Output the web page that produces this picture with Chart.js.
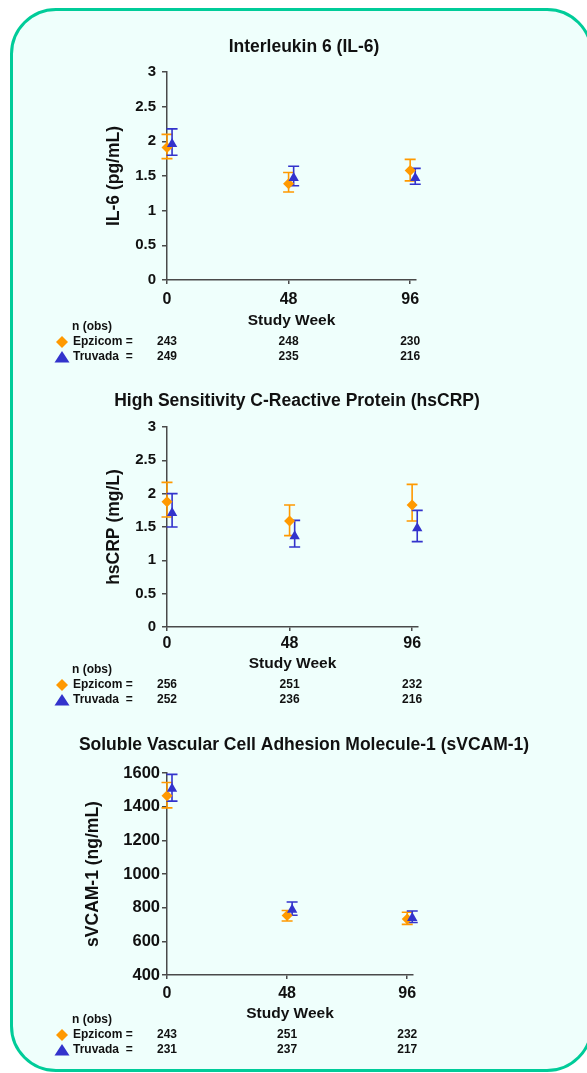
<!DOCTYPE html>
<html>
<head>
<meta charset="utf-8">
<title>Inflammatory markers by study week</title>
<script src="https://cdn.jsdelivr.net/npm/chart.js@4.4.1/dist/chart.umd.min.js"></script>
<style>
  html, body { margin: 0; padding: 0; background: #ffffff; }
  body { width: 587px; height: 1073px; position: relative; overflow: hidden; }
  #panel {
    position: absolute; left: 10px; top: 8px;
    width: 577px; height: 1058px;
    border: 3px solid #00CC99; border-radius: 46px;
    background: #EFFFFC;
  }
  canvas { position: absolute; left: 0; }
</style>
</head>
<body>
<div id="panel"></div>
<canvas id="il6Chart" width="587" height="375" style="top:0px"></canvas>
<canvas id="crpChart" width="587" height="345" style="top:375px"></canvas>
<canvas id="vcamChart" width="587" height="353" style="top:720px"></canvas>

<script>
// --- data ---
const weeks = [0, 48, 96];

// IL-6 (pg/mL)
const il6Epzicom     = [1.91, 1.39, 1.58];
const il6EpzicomLow  = [1.75, 1.27, 1.43];
const il6EpzicomHigh = [2.10, 1.55, 1.74];
const il6Truvada     = [1.96, 1.47, 1.47];
const il6TruvadaLow  = [1.80, 1.36, 1.38];
const il6TruvadaHigh = [2.18, 1.64, 1.61];
const il6NEpzicom = [243, 248, 230];
const il6NTruvada = [249, 235, 216];

// hsCRP (mg/L)
const crpEpzicom     = [1.88, 1.59, 1.83];
const crpEpzicomLow  = [1.65, 1.37, 1.59];
const crpEpzicomHigh = [2.17, 1.83, 2.14];
const crpTruvada     = [1.71, 1.36, 1.48];
const crpTruvadaLow  = [1.50, 1.20, 1.28];
const crpTruvadaHigh = [2.00, 1.60, 1.75];
const crpNEpzicom = [256, 251, 232];
const crpNTruvada = [252, 236, 216];

// sVCAM-1 (ng/mL)
const vcamEpzicom     = [1465, 753, 733];
const vcamEpzicomLow  = [1393, 721, 701];
const vcamEpzicomHigh = [1544, 783, 773];
const vcamTruvada     = [1507, 787, 739];
const vcamTruvadaLow  = [1433, 755, 712];
const vcamTruvadaHigh = [1592, 834, 780];
const vcamNEpzicom = [243, 251, 232];
const vcamNTruvada = [231, 237, 217];

const FONT = 'Arial, "Liberation Sans", Helvetica, sans-serif';
const INK = '#111111';
const AXIS = '#4a4a4a';
const ORANGE = '#FF9900';
const BLUE = '#3333CC';
const truvadaShift = 2; // Truvada points sit slightly right of the week

// error bars drawn under the markers
const errorBars = {
  id: 'errorBars',
  beforeDatasetsDraw(chart) {
    const ctx = chart.ctx;
    const y = chart.scales.y;
    chart.data.datasets.forEach((ds, i) => {
      const meta = chart.getDatasetMeta(i);
      ctx.save();
      ctx.strokeStyle = ds.borderColor;
      ctx.lineWidth = 1.6;
      meta.data.forEach((pt, j) => {
        const top = y.getPixelForValue(ds.high[j]);
        const bot = y.getPixelForValue(ds.low[j]);
        ctx.beginPath();
        ctx.moveTo(pt.x, top); ctx.lineTo(pt.x, bot);
        ctx.moveTo(pt.x - 5.5, top); ctx.lineTo(pt.x + 5.5, top);
        ctx.moveTo(pt.x - 5.5, bot); ctx.lineTo(pt.x + 5.5, bot);
        ctx.stroke();
      });
      ctx.restore();
    });
  }
};

// chart title + n (obs) table under the x axis
const panelText = {
  id: 'panelText',
  afterDraw(chart, args, opts) {
    const { ctx, chartArea } = chart;
    const x = chart.scales.x;
    ctx.save();
    ctx.fillStyle = INK;
    ctx.textBaseline = 'middle';

    ctx.font = 'bold 17.5px ' + FONT;
    ctx.textAlign = 'center';
    ctx.fillText(opts.title, opts.titleX, chartArea.top - opts.titleGap);

    const rowY = chartArea.bottom + opts.tableGap;
    ctx.font = 'bold 12px ' + FONT;
    ctx.textAlign = 'left';
    ctx.fillText('n (obs)', 72, rowY);
    ctx.fillText('Epzicom =', 73, rowY + 15);
    ctx.fillText('Truvada  =', 73, rowY + 30);

    // legend markers
    ctx.fillStyle = ORANGE;
    ctx.beginPath();
    ctx.moveTo(62, rowY + 15 - 6); ctx.lineTo(68, rowY + 15);
    ctx.lineTo(62, rowY + 15 + 6); ctx.lineTo(56, rowY + 15);
    ctx.closePath(); ctx.fill();
    ctx.fillStyle = BLUE;
    ctx.beginPath();
    ctx.moveTo(62, rowY + 30 - 6); ctx.lineTo(69.5, rowY + 30 + 5.5);
    ctx.lineTo(54.5, rowY + 30 + 5.5);
    ctx.closePath(); ctx.fill();

    ctx.fillStyle = INK;
    ctx.textAlign = 'center';
    weeks.forEach((w, k) => {
      const px = x.getPixelForValue(w);
      ctx.fillText(String(opts.nEpzicom[k]), px, rowY + 15);
      ctx.fillText(String(opts.nTruvada[k]), px, rowY + 30);
    });
    ctx.restore();
  }
};

function makePanel(canvasId, cfg) {
  const canvasTop = cfg.canvasTop;
  const canvasH = document.getElementById(canvasId).height;
  const yWidth = 167 - cfg.yLeft;
  return new Chart(document.getElementById(canvasId), {
    type: 'scatter',
    data: {
      datasets: [
        {
          label: 'Epzicom',
          data: weeks.map((w, i) => ({ x: w, y: cfg.epz[i] })),
          low: cfg.epzLow, high: cfg.epzHigh,
          pointStyle: 'rectRot', pointRadius: 5.5,
          backgroundColor: ORANGE, borderColor: ORANGE, borderWidth: 0,
          clip: false, order: 1
        },
        {
          label: 'Truvada',
          data: weeks.map((w, i) => ({ x: w + truvadaShift, y: cfg.tru[i] })),
          low: cfg.truLow, high: cfg.truHigh,
          pointStyle: 'triangle', pointRadius: 6,
          backgroundColor: BLUE, borderColor: BLUE, borderWidth: 0,
          clip: false, order: 0
        }
      ]
    },
    options: {
      responsive: false,
      animation: false,
      events: [],
      layout: {
        padding: {
          left: cfg.yLeft,
          right: 587 - cfg.right,
          top: cfg.areaTop - canvasTop,
          bottom: canvasH - (cfg.areaBottom - canvasTop) - cfg.xHeight
        }
      },
      scales: {
        x: {
          type: 'linear', min: 0, max: 98.3,
          afterBuildTicks: s => { s.ticks = weeks.map(v => ({ value: v })); },
          afterFit: s => { s.height = cfg.xHeight; },
          ticks: {
            autoSkip: false, maxRotation: 0, color: INK, padding: cfg.xPad,
            font: { family: FONT, size: 16, weight: 'bold' },
            callback: v => String(v)
          },
          grid: { drawOnChartArea: false, drawTicks: true, tickLength: 4, color: AXIS, lineWidth: 1.5 },
          border: { color: AXIS, width: 1.5 },
          title: {
            display: true, text: 'Study Week', color: INK, padding: 0,
            font: { family: FONT, size: 15.5, weight: 'bold' }
          }
        },
        y: {
          min: cfg.yMin, max: cfg.yMax,
          afterFit: s => { s.width = yWidth; },
          ticks: {
            stepSize: cfg.yStep, color: INK, padding: cfg.yPad,
            font: { family: FONT, size: cfg.yTickSize, weight: 'bold' },
            callback: v => String(v)
          },
          grid: { drawOnChartArea: false, drawTicks: true, tickLength: 5, color: AXIS, lineWidth: 1.5 },
          border: { color: AXIS, width: 1.5 },
          title: {
            display: true, text: cfg.yTitle, color: INK, padding: 0,
            font: { family: FONT, size: 17.5, weight: 'bold' }
          }
        }
      },
      plugins: {
        legend: { display: false },
        tooltip: { enabled: false },
        panelText: {
          title: cfg.title, titleX: cfg.titleX, titleGap: cfg.titleGap,
          tableGap: cfg.tableGap, nEpzicom: cfg.nEpz, nTruvada: cfg.nTru
        }
      }
    },
    plugins: [errorBars, panelText]
  });
}

document.addEventListener('DOMContentLoaded', function () {
  makePanel('il6Chart', {
    canvasTop: 0, areaTop: 72, areaBottom: 280, right: 416, yLeft: 103.5,
    xHeight: 50.3, xPad: 6, yPad: 6, yTickSize: 15,
    yMin: 0, yMax: 3, yStep: 0.5, yTitle: 'IL-6 (pg/mL)',
    title: 'Interleukin 6 (IL-6)', titleX: 304, titleGap: 25, tableGap: 47,
    epz: il6Epzicom, epzLow: il6EpzicomLow, epzHigh: il6EpzicomHigh,
    tru: il6Truvada, truLow: il6TruvadaLow, truHigh: il6TruvadaHigh,
    nEpz: il6NEpzicom, nTru: il6NTruvada
  });

  makePanel('crpChart', {
    canvasTop: 375, areaTop: 427, areaBottom: 627, right: 418, yLeft: 103.5,
    xHeight: 46.3, xPad: 3, yPad: 6, yTickSize: 15,
    yMin: 0, yMax: 3, yStep: 0.5, yTitle: 'hsCRP (mg/L)',
    title: 'High Sensitivity C-Reactive Protein (hsCRP)', titleX: 297, titleGap: 26, tableGap: 43,
    epz: crpEpzicom, epzLow: crpEpzicomLow, epzHigh: crpEpzicomHigh,
    tru: crpTruvada, truLow: crpTruvadaLow, truHigh: crpTruvadaHigh,
    nEpz: crpNEpzicom, nTru: crpNTruvada
  });

  makePanel('vcamChart', {
    canvasTop: 720, areaTop: 773, areaBottom: 975, right: 413, yLeft: 82.5,
    xHeight: 48.3, xPad: 5, yPad: 2, yTickSize: 16.5,
    yMin: 400, yMax: 1600, yStep: 200, yTitle: 'sVCAM-1 (ng/mL)',
    title: 'Soluble Vascular Cell Adhesion Molecule-1 (sVCAM-1)', titleX: 304, titleGap: 28, tableGap: 45,
    epz: vcamEpzicom, epzLow: vcamEpzicomLow, epzHigh: vcamEpzicomHigh,
    tru: vcamTruvada, truLow: vcamTruvadaLow, truHigh: vcamTruvadaHigh,
    nEpz: vcamNEpzicom, nTru: vcamNTruvada
  });
});
</script>
</body>
</html>
